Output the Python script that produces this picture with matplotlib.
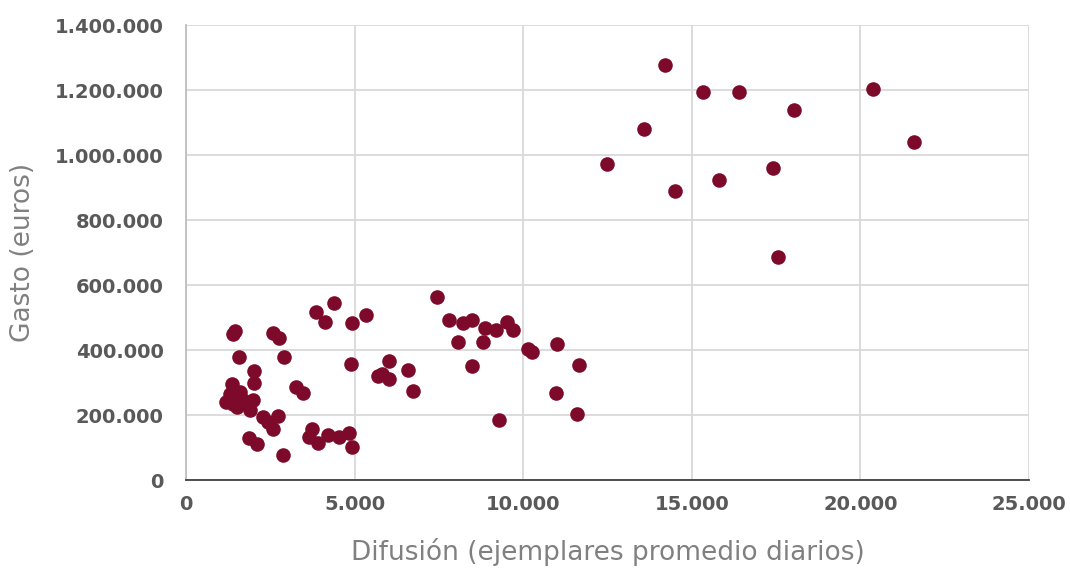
import matplotlib.pyplot as plt
from matplotlib.ticker import FuncFormatter

# Difusión (ejemplares promedio diarios) y gasto (euros)
difusion = [
    1462, 1384, 2571, 2768, 1562, 2897, 2027, 2027, 1354,
    1200, 1300, 1400, 1500, 1600, 1700, 1500, 1900, 2000, 1400,
    2274, 2719, 2422, 2591, 1878, 2097, 2867,
    3262, 3460, 3855, 4131, 4398, 4923, 5338, 4893,
    5685, 5800, 6011, 6011, 6574, 6723,
    3737, 3639, 3906, 4203, 4547, 4825, 4923,
    7453, 7800, 8224, 8491, 8867, 9185, 9511, 9707, 8057, 8817,
    10151, 10252, 10993, 8472, 11655, 10963, 11604, 9282,
    14200, 13580, 12490, 14500, 15330, 16400, 15810, 17410, 17560,
    18030, 20370, 21590,
]
gasto = [
    459000, 449000, 453000, 436000, 377000, 377000, 336000, 297000, 295000,
    240000, 265000, 250000, 225000, 270000, 245000, 260000, 215000, 245000, 235000,
    195000, 197000, 179000, 156000, 128000, 111000, 77000,
    285000, 267000, 516000, 487000, 544000, 484000, 508000, 357000,
    320000, 325000, 310000, 366000, 338000, 274000,
    156000, 133000, 113000, 138000, 133000, 146000, 102000,
    564000, 492000, 482000, 492000, 467000, 462000, 485000, 462000, 426000, 426000,
    402000, 395000, 418000, 351000, 354000, 267000, 203000, 185000,
    1277000, 1080000, 972000, 889000, 1194000, 1194000, 923000, 960000, 686000,
    1138000, 1203000, 1040000,
]

x_ticks = list(range(0, 25001, 5000))
y_ticks = list(range(0, 1400001, 200000))

fig = plt.figure(figsize=(10.7, 5.69), dpi=100)
ax = fig.add_axes([0.1738, 0.1564, 0.7879, 0.7996])

ax.scatter(difusion, gasto, s=110, color="#7D0A2B", zorder=3, linewidths=0)

ax.set_xlim(0, 25000)
ax.set_ylim(0, 1400000)
ax.set_xticks(x_ticks)
ax.set_yticks(y_ticks)

fmt = FuncFormatter(lambda v, p: f"{int(v):,}".replace(",", "."))
ax.xaxis.set_major_formatter(fmt)
ax.yaxis.set_major_formatter(fmt)

ax.grid(True, color="#D9D9D9", linewidth=1.3, zorder=0)
ax.set_axisbelow(True)
for side in ["top", "right"]:
    ax.spines[side].set_visible(False)
ax.spines["left"].set_color("#BFBFBF")
ax.spines["left"].set_linewidth(1.3)
ax.spines["bottom"].set_color("#404040")
ax.spines["bottom"].set_linewidth(1.3)

ax.tick_params(axis="x", length=0, pad=11)
ax.tick_params(axis="y", length=0, pad=16)
ax.tick_params(labelsize=14, labelcolor="#595959")
for lab in ax.get_xticklabels() + ax.get_yticklabels():
    lab.set_fontweight("bold")
    lab.set_family("DejaVu Sans")

ax.set_xlabel("Difusión (ejemplares promedio diarios)", fontsize=19, color="#808080",
              family="DejaVu Sans", va="center")
ax.xaxis.set_label_coords(0.5, -0.158)
ax.set_ylabel("Gasto (euros)", fontsize=19, color="#808080", family="DejaVu Sans",
              va="center")
ax.yaxis.set_label_coords(-0.193, 0.5)

fig.savefig("out.png", dpi=100)
